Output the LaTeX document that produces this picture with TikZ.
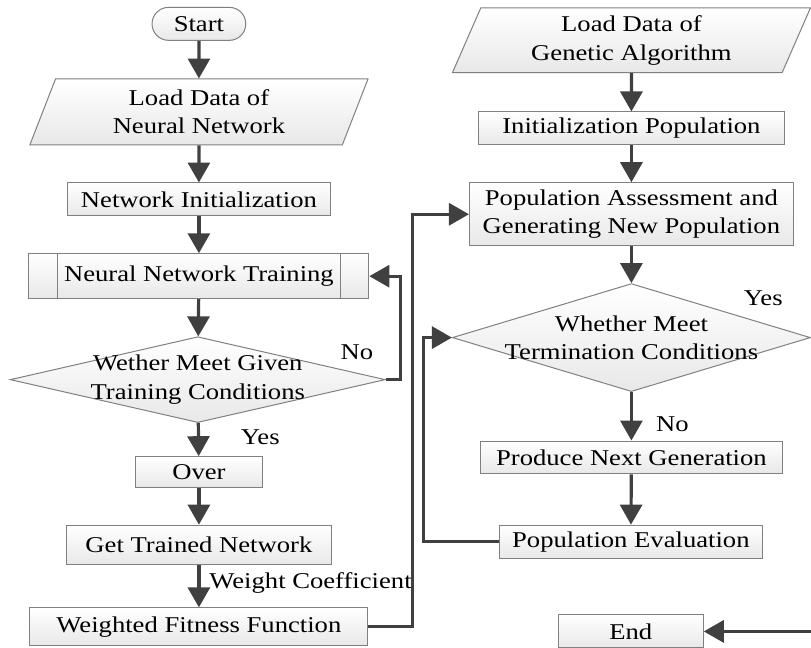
\documentclass[tikz,border=0pt]{standalone}
\usepackage{fontspec}
\setmainfont[FakeStretch=1.18]{Liberation Serif}
\usepackage{tikz}
\usetikzlibrary{shapes.geometric, arrows.meta}

\begin{document}
\begin{tikzpicture}[font=\fontsize{11.3}{14.2}\selectfont,
    boxbase/.style={draw=gray, line width=0.5pt, top color=white, bottom color=gray!18, inner sep=0pt},
    procbox/.style={boxbase, rectangle},
    startbox/.style={boxbase, rectangle, rounded corners=0.29cm, minimum width=1.65cm, minimum height=0.58cm},
    iobox/.style={boxbase, trapezium, trapezium left angle=60, trapezium right angle=120, trapezium stretches body},
    subproc/.style={procbox, path picture={
        \draw[gray, line width=0.5pt] ([xshift=0.5cm]path picture bounding box.north west) -- ([xshift=0.5cm]path picture bounding box.south west);
        \draw[gray, line width=0.5pt] ([xshift=-0.5cm]path picture bounding box.north east) -- ([xshift=-0.5cm]path picture bounding box.south east);}},
    decision/.style={boxbase, diamond},
    flow/.style={draw=arrowgray, line width=1.6pt, -{Triangle[width=11pt, length=10pt]}}]
  \definecolor{arrowgray}{HTML}{404040}
  \useasboundingbox (0, 0) rectangle (14.27, 11.40);

  % neural network side
  \node[startbox] (start) at (3.50, 10.98) {Start};
  \node[iobox, minimum width=5.95cm, minimum height=1.16cm, align=center] (loadnn) at (3.50, 9.43) {Load Data of\\Neural Network};
  \node[procbox, minimum width=4.63cm, minimum height=0.58cm] (netinit) at (3.50, 7.89) {Network Initialization};
  \node[subproc, minimum width=5.98cm, minimum height=0.79cm] (train) at (3.50, 6.54) {Neural Network Training};
  \node[decision, minimum width=6.60cm, minimum height=1.51cm,
        label={[align=center]center:Wether Meet Given\\Training Conditions}] (cond1) at (3.48, 4.72) {};
  \node[procbox, minimum width=2.24cm, minimum height=0.55cm] (over) at (3.50, 3.09) {Over};
  \node[procbox, minimum width=4.65cm, minimum height=0.70cm] (trained) at (3.50, 1.81) {Get Trained Network};
  \node[procbox, minimum width=5.95cm, minimum height=0.67cm] (fitness) at (3.50, 0.37) {Weighted Fitness Function};

  % genetic algorithm side
  \node[iobox, minimum width=6.30cm, minimum height=1.14cm, align=center] (loadga) at (11.11, 10.69) {Load Data of\\Genetic Algorithm};
  \node[procbox, minimum width=5.39cm, minimum height=0.58cm] (initpop) at (11.11, 9.14) {Initialization Population};
  \node[procbox, minimum width=5.70cm, minimum height=1.11cm, align=center] (assess) at (11.11, 7.63) {Population Assessment and\\Generating New Population};
  \node[decision, minimum width=6.30cm, minimum height=1.90cm,
        label={[align=center]center:Whether Meet\\Termination Conditions}] (cond2) at (11.11, 5.46) {};
  \node[procbox, minimum width=5.32cm, minimum height=0.58cm] (nextgen) at (11.11, 3.35) {Produce Next Generation};
  \node[procbox, minimum width=4.63cm, minimum height=0.58cm] (evalpop) at (11.10, 1.87) {Population Evaluation};
  \node[procbox, minimum width=2.55cm, minimum height=0.58cm] (finish) at (11.10, 0.29) {End};

  % branch labels
  \node (no1) at (6.28, 5.21) {No};
  \node (yes1) at (4.58, 3.71) {Yes};
  \node[anchor=west] (wcoef) at (3.56, 1.14) {Weight Coefficient};
  \node (yes2) at (13.43, 6.16) {Yes};
  \node (no2) at (11.83, 3.94) {No};

  \draw[flow] (start) -- (loadnn);
  \draw[flow] (loadnn) -- (netinit);
  \draw[flow] (netinit) -- (train);
  \draw[flow] (train) -- (cond1);
  \draw[flow] (cond1) -- (over);
  \draw[flow] (over) -- (trained);
  \draw[flow] (trained) -- (fitness);
  \draw[flow] (cond1.east) -- ++(0.26, 0) |- (train.east);
  \draw[flow] (fitness.east) -- ++(0.77, 0) |- (assess.west);

  \draw[flow] (loadga) -- (initpop);
  \draw[flow] (initpop) -- (assess);
  \draw[flow] (assess) -- (cond2);
  \draw[flow] (cond2) -- (nextgen);
  \draw[flow] (nextgen) -- (evalpop);
  \draw[flow] (evalpop.west) -- ++(-1.32, 0) |- (cond2.west);
  \draw[flow] (cond2.east) -- ++(0.08, 0) |- (finish.east);
\end{tikzpicture}
\end{document}
